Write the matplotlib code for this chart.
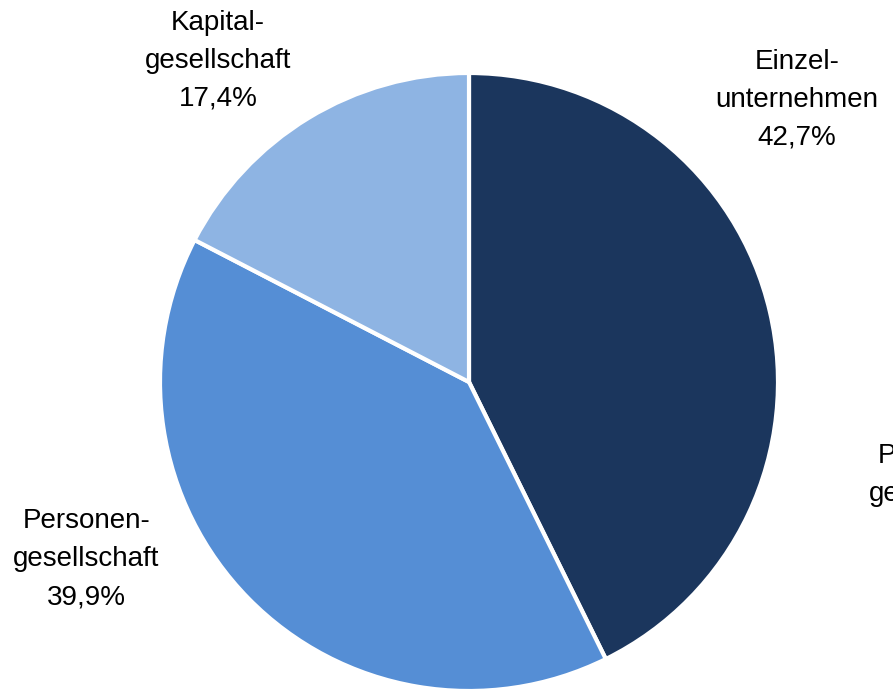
import matplotlib.pyplot as plt

# Rechtsformen: Anteile in %
labels = ['Einzel-\nunternehmen', 'Personen-\ngesellschaft', 'Kapital-\ngesellschaft']
shares = [42.7, 39.9, 17.4]
colors = ['#1B365D', '#558ED5', '#8EB4E3']

plt.rcParams['font.family'] = ['Liberation Sans Narrow', 'Liberation Sans', 'DejaVu Sans']

fig = plt.figure(figsize=(8.93, 6.89), dpi=100)
W, H = 893, 689
cx, cy, r = 469, 382, 309
ax = fig.add_axes([(cx - r) / W, (H - cy - r) / H, 2 * r / W, 2 * r / H])
ax.pie(shares, colors=colors, startangle=90, counterclock=False, radius=1,
       wedgeprops=dict(edgecolor='white', linewidth=3))
ax.set_xlim(-1, 1)
ax.set_ylim(-1, 1)
ax.axis('off')

def fmt(v):
    return f'{v:.1f}'.replace('.', ',') + '%'

# Beschriftungen ausserhalb der Segmente
label_pos = [(1.061, 0.913), (-1.239, -0.573), (-0.812, 1.039)]
for lab, v, (x, y) in zip(labels, shares, label_pos):
    ax.text(x, y, lab + '\n' + fmt(v), ha='center', va='center',
            fontsize=20, linespacing=1.6, clip_on=False)

# angeschnittene Beschriftung des Nachbardiagramms
fig.text(942 / W, 1 - 475 / H, 'Personen-\ngesellschaft', ha='center', va='center',
         fontsize=20, linespacing=1.6)

fig.savefig('out.png', dpi=100)
